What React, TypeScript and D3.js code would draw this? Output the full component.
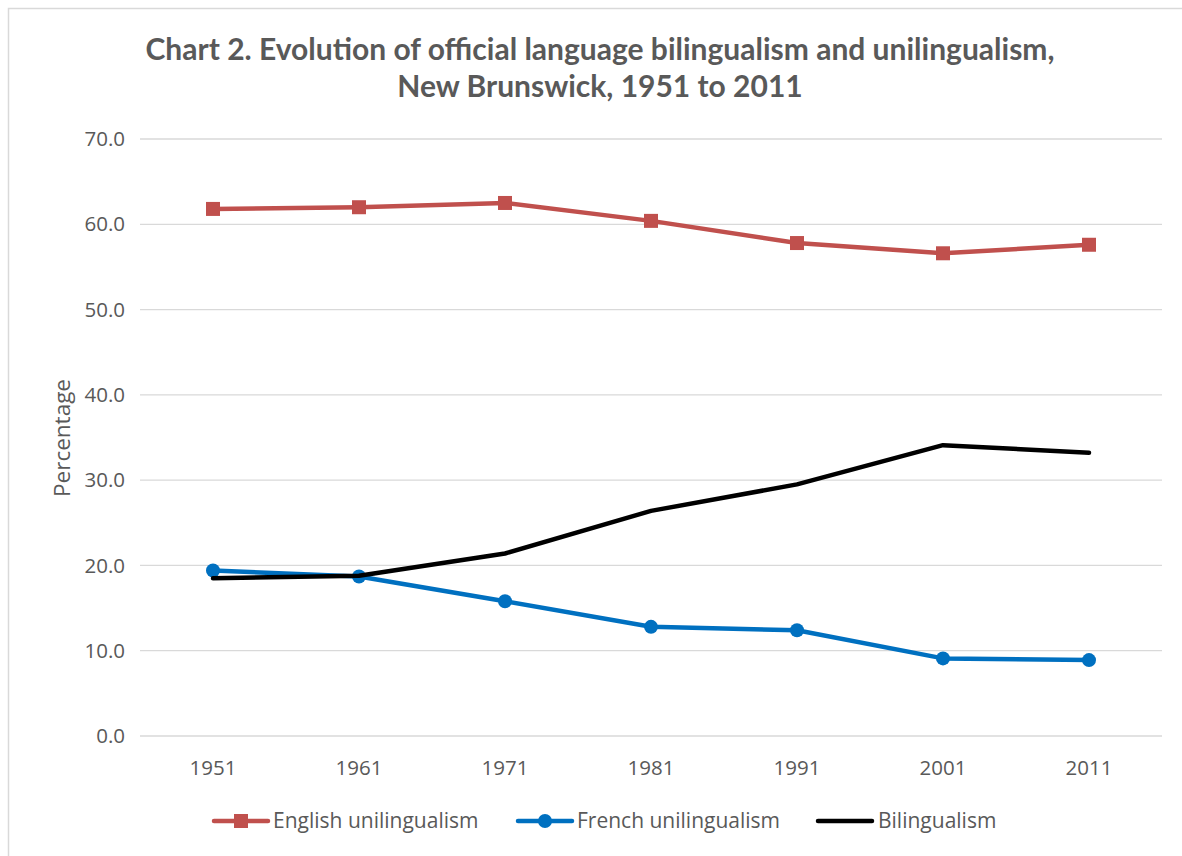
import React from "react";
import * as d3 from "d3";

const years = ["1951", "1961", "1971", "1981", "1991", "2001", "2011"];
const englishUni = [61.8, 62.0, 62.5, 60.4, 57.8, 56.6, 57.6];
const frenchUni = [19.4, 18.7, 15.8, 12.8, 12.4, 9.1, 8.9];
const bilingualism = [18.5, 18.8, 21.4, 26.4, 29.5, 34.1, 33.2];
const yTicks = [0, 10, 20, 30, 40, 50, 60, 70];
const titleLines = [
  "Chart 2. Evolution of official language bilingualism and unilingualism,",
  "New Brunswick, 1951 to 2011",
];
const yAxisTitle = "Percentage";

const series = [
  { name: "English unilingualism", values: englishUni, color: "#C0504D", marker: "square" },
  { name: "French unilingualism", values: frenchUni, color: "#0070C0", marker: "circle" },
  { name: "Bilingualism", values: bilingualism, color: "#000000", marker: "none" },
];

const W = 1182;
const H = 856;
const plot = { left: 140, right: 1162, top: 139, bottom: 736 };
const textColor = "#595959";
const font = "'Open Sans', sans-serif";

export default function App() {
  const x = d3.scalePoint<string>().domain(years).range([plot.left, plot.right]).padding(0.5);
  const y = d3.scaleLinear().domain([0, 70]).range([plot.bottom, plot.top]);
  const line = d3
    .line<number>()
    .x((_, i) => x(years[i]) as number)
    .y((d) => y(d));

  const legendItems = [
    { lx: 214, tx: 273 },
    { lx: 518, tx: 577 },
    { lx: 818, tx: 878 },
  ];

  const marker = (kind: string, cx: number, cy: number, color: string, key: string) => {
    if (kind === "square")
      return <rect key={key} x={cx - 7} y={cy - 7} width={14} height={14} fill={color} />;
    if (kind === "circle") return <circle key={key} cx={cx} cy={cy} r={7} fill={color} />;
    return null;
  };

  return (
    <svg
      width={W}
      height={H}
      style={{ position: "absolute", left: 0, top: 0, background: "#fff" }}
    >
      <rect x={8.5} y={8.5} width={1300} height={1000} fill="#fff" stroke="#d9d9d9" strokeWidth={1.5} />
      {titleLines.map((t, i) => (
        <text
          key={i}
          x={600}
          y={60 + i * 37}
          textAnchor="middle"
          fontFamily="Lato, sans-serif"
          fontWeight="bold"
          fontSize={30}
          fill={textColor}
        >
          {t}
        </text>
      ))}
      {yTicks.map((t) => (
        <g key={t}>
          <line x1={plot.left} x2={plot.right} y1={y(t)} y2={y(t)} stroke="#d9d9d9" strokeWidth={1.3} />
          <text
            x={125}
            y={y(t)}
            dy="0.35em"
            textAnchor="end"
            fontFamily={font}
            fontSize={20.5}
            fill={textColor}
          >
            {t.toFixed(1)}
          </text>
        </g>
      ))}
      {years.map((yr) => (
        <text
          key={yr}
          x={x(yr)}
          y={768}
          dy="0.35em"
          textAnchor="middle"
          fontFamily={font}
          fontSize={20.5}
          fill={textColor}
        >
          {yr}
        </text>
      ))}
      <text
        transform="translate(62,438) rotate(-90)"
        textAnchor="middle"
        dy="0.35em"
        fontFamily={font}
        fontSize={22.5}
        fill={textColor}
      >
        {yAxisTitle}
      </text>
      {series.map((s) => (
        <g key={s.name}>
          <path
            d={line(s.values) || ""}
            fill="none"
            stroke={s.color}
            strokeWidth={4.5}
            strokeLinejoin="round"
            strokeLinecap="round"
          />
          {s.values.map((v, i) => marker(s.marker, x(years[i]) as number, y(v), s.color, s.name + i))}
        </g>
      ))}
      {series.map((s, i) => {
        const it = legendItems[i];
        return (
          <g key={"lg" + s.name}>
            <line
              x1={it.lx}
              x2={it.lx + 54}
              y1={821}
              y2={821}
              stroke={s.color}
              strokeWidth={4.5}
              strokeLinecap="round"
            />
            {marker(s.marker, it.lx + 27, 821, s.color, "lm" + i)}
            <text
              x={it.tx}
              y={821}
              dy="0.35em"
              fontFamily={font}
              fontSize={21}
              fill={textColor}
            >
              {s.name}
            </text>
          </g>
        );
      })}
    </svg>
  );
}
